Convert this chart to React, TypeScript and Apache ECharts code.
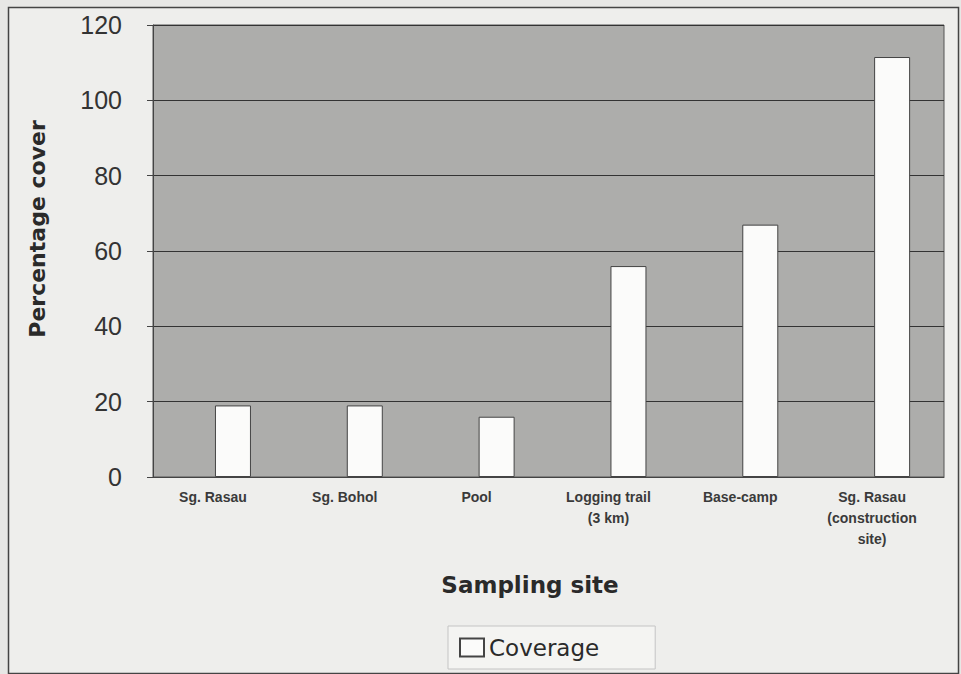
import React, { useEffect, useRef } from "react";
import * as echarts from "echarts";

const categories = [
  "Sg. Rasau",
  "Sg. Bohol",
  "Pool",
  "Logging trail\n(3 km)",
  "Base-camp",
  "Sg. Rasau\n(construction\nsite)",
];
const coverage = [19, 19, 16, 56, 67, 111.5];
const placeholder = [null, null, null, null, null, null];
const yTicks = { min: 0, max: 120, interval: 20 };
const seriesName = "Coverage";
const xTitle = "Sampling site";
const yTitle = "Percentage cover";

const FONT = "'Liberation Sans', Arial, sans-serif";
const WIDE = "'DejaVu Sans', 'Liberation Sans', sans-serif";

export default function App() {
  const ref = useRef<HTMLDivElement>(null);
  useEffect(() => {
    if (!ref.current) return;
    const chart = echarts.init(ref.current, null, { renderer: "svg" });
    chart.setOption({
      animation: false,
      backgroundColor: "#e7e7e5",
      graphic: [
        {
          type: "rect",
          shape: { x: 8.5, y: 7.5, width: 950, height: 666 },
          style: { fill: "#eeeeec", stroke: "#444", lineWidth: 1.5 },
          z: -10,
        },
        {
          type: "text",
          x: 530,
          y: 585,
          style: {
            text: xTitle,
            font: `bold 23px ${WIDE}`,
            fill: "#2a2a2a",
            align: "center",
            verticalAlign: "middle",
          },
        },
        {
          type: "text",
          x: 37,
          y: 229,
          rotation: Math.PI / 2,
          style: {
            text: yTitle,
            font: `bold 22px ${WIDE}`,
            fill: "#2a2a2a",
            align: "center",
            verticalAlign: "middle",
          },
        },
      ],
      grid: {
        left: 153,
        top: 25,
        right: 17,
        bottom: 197,
        show: true,
        backgroundColor: "#adadab",
        borderColor: "#555",
        borderWidth: 1,
      },
      legend: {
        data: [seriesName],
        left: 448,
        top: 626,
        itemWidth: 24,
        itemHeight: 18,
        itemGap: 6,
        icon: "rect",
        backgroundColor: "#f4f4f2",
        borderColor: "#c4c4c4",
        borderWidth: 1,
        padding: [10, 56, 10, 11],
        textStyle: { fontFamily: WIDE, fontSize: 23, color: "#2a2a2a" },
      },
      xAxis: {
        type: "category",
        data: categories,
        axisLine: { show: true, lineStyle: { color: "#444", width: 1 } },
        axisTick: { show: false },
        axisLabel: {
          interval: 0,
          margin: 9,
          fontFamily: FONT,
          fontSize: 14,
          fontWeight: "bold",
          color: "#3a3a3a",
          lineHeight: 21,
          align: "center",
          padding: [0, 12, 0, 0],
        },
      },
      yAxis: {
        type: "value",
        min: yTicks.min,
        max: yTicks.max,
        interval: yTicks.interval,
        axisLine: { show: true, lineStyle: { color: "#444", width: 1 } },
        axisTick: { show: true, length: 6, lineStyle: { color: "#444" } },
        splitLine: { show: true, lineStyle: { color: "#333", width: 1 } },
        axisLabel: {
          margin: 31,
          fontFamily: FONT,
          fontSize: 25,
          color: "#333",
        },
      },
      series: [
        {
          name: "_gap",
          type: "bar",
          data: placeholder,
          barWidth: 36,
          barGap: "-22%",
          itemStyle: { color: "transparent" },
        },
        {
          name: seriesName,
          type: "bar",
          data: coverage,
          barWidth: 36,
          barGap: "-22%",
          itemStyle: { color: "#fbfbfa", borderColor: "#444", borderWidth: 1 },
        },
      ],
    });
    return () => chart.dispose();
  }, []);
  return (
    <div
      ref={ref}
      style={{ position: "absolute", left: 0, top: 0, width: 961, height: 674 }}
    />
  );
}
